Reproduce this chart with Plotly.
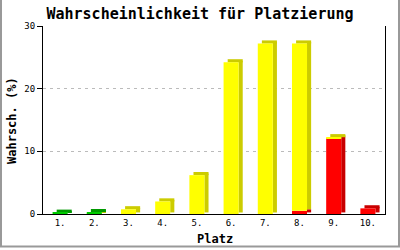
import plotly.graph_objects as go

categories = ["1.", "2.", "3.", "4.", "5.", "6.", "7.", "8.", "9.", "10."]
red = [0, 0, 0, 0, 0, 0, 0, 0.5, 12.1, 0.9]
yellow = [0, 0.15, 0.75, 2.0, 6.2, 24.2, 27.2, 26.7, 0.15, 0]
green = [0.2, 0.15, 0, 0, 0, 0, 0, 0, 0, 0]
y_ticks = [0, 10, 20, 30]

series = [
    (red, "#FF0000", "#C80000"),
    (yellow, "#FFFF00", "#CCCC00"),
    (green, "#00CC00", "#009900"),
]

W, DX, DY = 0.44, 0.12, 0.5
n = len(categories)

bases = []
acc = [0.0] * n
for vals, _, _ in series:
    bases.append(list(acc))
    acc = [a + v for a, v in zip(acc, vals)]
totals = acc
top_idx = []
for i in range(n):
    t = 0
    for k, (vals, _, _) in enumerate(series):
        if vals[i] > 0:
            t = k
    top_idx.append(t)

fig = go.Figure()
common = dict(x=categories, hoverinfo="skip", showlegend=False, marker_line_width=0)

# side faces
for k, (vals, col, dark) in enumerate(series):
    fig.add_trace(go.Bar(y=[v if v > 0 else None for v in vals],
                         base=[b + DY / 2 for b in bases[k]],
                         width=DX, offset=W / 2, marker_color=dark, **common))
# top faces
for k, (vals, col, dark) in enumerate(series):
    fig.add_trace(go.Bar(y=[DY if (top_idx[i] == k and vals[i] > 0) else None for i in range(n)],
                         base=totals, width=W, offset=-W / 2 + DX,
                         marker_color=dark, **common))
# front faces
for k, (vals, col, dark) in enumerate(series):
    fig.add_trace(go.Bar(y=[v if v > 0 else None for v in vals],
                         base=bases[k], width=W, offset=-W / 2,
                         marker_color=col, **common))

L, R, T, B = 43, 15, 26, 36
pw, ph = 400 - L - R, 250 - T - B

def px_x(p):
    return (p - L) / pw

def px_y(p):
    return (250 - B - p) / ph

mono = "DejaVu Sans Mono, Liberation Mono, monospace"
fig.update_layout(
    width=400, height=250,
    margin=dict(l=L, r=R, t=T, b=B),
    paper_bgcolor="white", plot_bgcolor="white",
    barmode="overlay",
    title=dict(text="<b>Wahrscheinlichkeit für Platzierung</b>",
               x=0.5, xanchor="center", y=1 - 14 / 250, yanchor="middle",
               yref="container", font=dict(family=mono, size=15, color="black")),
    xaxis=dict(type="category", range=[-0.5, 9.5], showgrid=False,
               showline=True, linecolor="black", linewidth=1, ticks="",
               tickfont=dict(family=mono, size=9, color="black"), fixedrange=True),
    yaxis=dict(range=[0, 30], tickvals=y_ticks, showgrid=True,
               gridcolor="#BBBBBB", griddash="3px,4px", gridwidth=1,
               zeroline=False, showline=True, mirror=True, linecolor="black",
               linewidth=1, ticks="outside", ticklen=5, tickcolor="black",
               tickfont=dict(family=mono, size=9, color="black")),
    annotations=[
        dict(text="<b>Wahrsch. (%)</b>", xref="paper", yref="paper",
             x=px_x(12), y=px_y(121), textangle=-90, showarrow=False,
             xanchor="center", yanchor="middle",
             font=dict(family=mono, size=12, color="black")),
        dict(text="<b>Platz</b>", xref="paper", yref="paper",
             x=px_x(215), y=px_y(239), showarrow=False,
             xanchor="center", yanchor="middle",
             font=dict(family=mono, size=12, color="black")),
    ],
    shapes=[dict(type="rect", xref="paper", yref="paper",
                 x0=px_x(1), x1=px_x(399), y0=px_y(246.5), y1=px_y(-1),
                 line=dict(color="#999999", width=2), fillcolor="rgba(0,0,0,0)",
                 layer="below")],
)

fig.write_html("out.html")
